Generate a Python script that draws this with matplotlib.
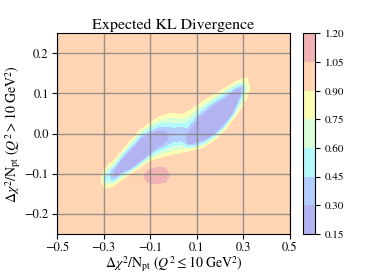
import matplotlib
matplotlib.use('Agg')
import matplotlib.pyplot as plt
from matplotlib.colors import ListedColormap
import numpy as np

plt.rcParams['font.family'] = 'serif'
plt.rcParams['font.serif'] = ['STIXGeneral', 'Liberation Serif', 'DejaVu Serif']
plt.rcParams['mathtext.fontset'] = 'stix'

# contour levels of the expected KL divergence
levels = [0.15, 0.30, 0.45, 0.60, 0.75, 0.90, 1.05, 1.20]

# field, column by column along the low-KL band
band_x = [-0.50, -0.32, -0.30, -0.28, -0.255, -0.22, -0.18, -0.14, -0.11, -0.07, -0.035,
          0.0, 0.03, 0.06, 0.10, 0.14, 0.18, 0.22, 0.26, 0.29, 0.315, 0.34, 0.50]
edge_top = [-0.09, -0.09, -0.09, -0.076, -0.064, -0.04, -0.012, 0.012, 0.025, 0.04, 0.048,
            0.051, 0.047, 0.056, 0.07, 0.086, 0.1, 0.114, 0.128, 0.136, 0.141, 0.141, 0.141]
edge_bottom = [-0.134, -0.134, -0.134, -0.135, -0.13, -0.115, -0.099, -0.085, -0.071, -0.061, -0.056,
               -0.052, -0.048, -0.044, -0.04, -0.032, -0.016, 0.006, 0.036, 0.06, 0.085, 0.085, 0.085]
blob_top = [-0.103, -0.103, -0.103, -0.09, -0.09, -0.061, -0.038, -0.013, -0.003, 0.007, 0.006,
            0.012, 0.015, 0.0, 0.035, 0.057, 0.074, 0.088, 0.107, 0.114, 0.123, 0.123, 0.123]
blob_mid = [-0.113, -0.113, -0.113, -0.106, -0.1, -0.079, -0.062, -0.041, -0.029, -0.015, -0.009,
            -0.003, 0.0, -0.013, 0.005, 0.021, 0.037, 0.055, 0.08, 0.106, 0.113, 0.113, 0.113]
blob_bottom = [-0.123, -0.123, -0.123, -0.12, -0.111, -0.097, -0.087, -0.069, -0.055, -0.036, -0.024,
               -0.02, -0.018, -0.026, -0.025, -0.014, 0.0, 0.023, 0.054, 0.098, 0.103, 0.103, 0.103]

edge_val = [1.0, 1.0, 0.88, 0.88, 0.88, 0.88, 0.88, 0.88, 0.88, 0.88, 0.88,
            0.88, 0.88, 0.88, 0.88, 0.88, 0.88, 0.88, 0.88, 0.88, 0.88, 1.0, 1.0]
blob_edge_val = [1.0, 1.0, 0.69, 0.6, 0.28, 0.28, 0.28, 0.28, 0.28, 0.28, 0.28,
                 0.4, 0.42, 0.28, 0.28, 0.28, 0.28, 0.28, 0.28, 0.28, 0.76, 1.0, 1.0]
blob_min = [1.0, 1.0, 0.5, 0.47, 0.26, 0.2, 0.18, 0.18, 0.18, 0.2, 0.25,
            0.33, 0.36, 0.27, 0.18, 0.16, 0.16, 0.17, 0.2, 0.28, 0.65, 1.0, 1.0]
background = 1.0

# small high-KL patch below the band
pink_y = -0.105
pink_val = [1.0, 1.0, 1.0, 1.0, 1.0, 1.0, 1.0, 1.0, 1.12, 1.14, 1.11,
            1.0, 1.0, 1.0, 1.0, 1.0, 1.0, 1.0, 1.0, 1.0, 1.0, 1.0, 1.0]

B = np.array(edge_bottom)
T = np.array(edge_top)
n = len(band_x)
r3 = B - 0.012
r2 = np.minimum(pink_y, r3 - 0.01)
r1 = r2 - 0.03
Y = np.vstack([np.full(n, -0.6), r1, r2, r3, B, blob_bottom, blob_mid,
               blob_top, T, T + 0.012, np.full(n, 0.6)])
X = np.tile(band_x, (Y.shape[0], 1))
bg = np.full(n, background)
Z = np.vstack([bg, bg, pink_val, bg, edge_val, blob_edge_val, blob_min,
               blob_edge_val, edge_val, bg, bg])

# jet at alpha 0.3 over white, flattened so that no edge strokes overlap
jet = plt.get_cmap('jet')(np.linspace(0, 1, 256))
pale = ListedColormap(0.3 * jet[:, :3] + 0.7)

fig = plt.figure(figsize=(3.86, 2.76), dpi=100)
ax = fig.add_axes([0.148, 0.152, 0.603, 0.728])
cax = fig.add_axes([0.786, 0.152, 0.030, 0.728])

cs = ax.contourf(X, Y, Z, levels=levels, cmap=pale, antialiased=False)
cs.set_edgecolor('none')
cs.set_linewidth(0)
ax.set_xlim(-0.5, 0.5)
ax.set_ylim(-0.25, 0.25)
ax.set_xticks([-0.5, -0.3, -0.1, 0.1, 0.3, 0.5])
ax.set_yticks([-0.2, -0.1, 0.0, 0.1, 0.2])
ax.grid(True, color='gray', linewidth=1, alpha=0.8)
ax.tick_params(labelsize=9, pad=2.5)

ax.set_title('Expected KL Divergence', fontsize=11.5, pad=3)
ax.set_xlabel(r'$\Delta\chi^2/\mathrm{N}_{\mathrm{pt}}$ $(Q^2 \leq 10\;\mathrm{GeV}^2)$', fontsize=10, labelpad=0)
ax.set_ylabel(r'$\Delta\chi^2/\mathrm{N}_{\mathrm{pt}}$ $(Q^2 > 10\;\mathrm{GeV}^2)$', fontsize=10, labelpad=1)

cb = fig.colorbar(cs, cax=cax, ticks=levels, format='%.2f')
cb.ax.tick_params(labelsize=8)

plt.savefig('out.png', dpi=100)
